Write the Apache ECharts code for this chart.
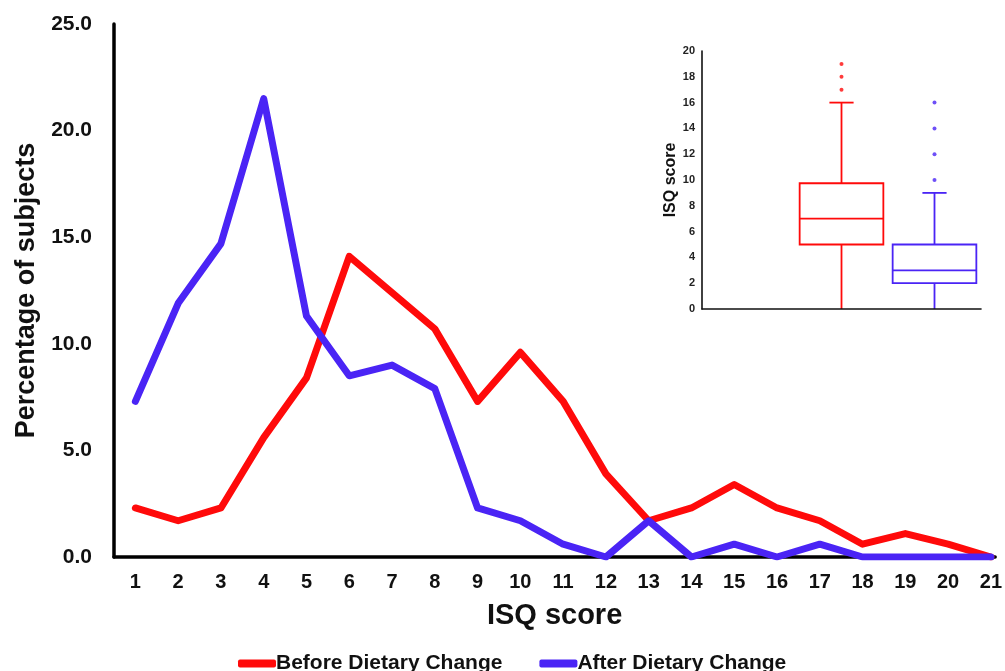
<!DOCTYPE html>
<html>
<head>
<meta charset="utf-8">
<script src="https://cdn.jsdelivr.net/npm/echarts@6/dist/echarts.min.js"></script>
<style>
html,body{margin:0;padding:0;background:#fff;}
#chart{width:1005px;height:671px;}
</style>
</head>
<body>
<div id="chart"></div>
<script>
// ---- data ----
const scores = [1,2,3,4,5,6,7,8,9,10,11,12,13,14,15,16,17,18,19,20,21];
const beforeValues = [2.3,1.7,2.3,5.6,8.4,14.1,12.4,10.7,7.3,9.6,7.3,3.9,1.7,2.3,3.4,2.3,1.7,0.6,1.1,0.6,0.0];
const afterValues  = [7.3,11.9,14.7,21.5,11.3,8.5,9.0,7.9,2.3,1.7,0.6,0.0,1.7,0.0,0.6,0.0,0.6,0.0,0.0,0.0,0.0];
const percentTicks = [0,5,10,15,20,25];
const seriesNames = ['Before Dietary Change','After Dietary Change'];
// inset boxplot: [low whisker, Q1, median, Q3, high whisker]
const boxCategories = ['', 'Before Dietary Change', 'After Dietary Change'];
const beforeBox = [0, 5, 7, 9.75, 16];
const afterBox  = [0, 2, 3, 5, 9];
const beforeOutliers = [17, 18, 19];
const afterOutliers  = [10, 12, 14, 16];
const isqTicks = [0,2,4,6,8,10,12,14,16,18,20];

const RED = '#ff0a0a';
const BLUE = '#4a24f5';
const FONT = '"Liberation Sans", Arial, sans-serif';

function boxRender(params, api) {
  const x = api.value(0);
  const lo = api.coord([x, api.value(1)]);
  const q1 = api.coord([x, api.value(2)]);
  const md = api.coord([x, api.value(3)]);
  const q3 = api.coord([x, api.value(4)]);
  const hi = api.coord([x, api.value(5)]);
  const band = api.size([1, 0])[0];
  const hw = band * 0.45, cw = band * 0.13;
  const color = api.visual('color');
  const st = {stroke: color, lineWidth: 1.8, fill: null};
  const cx = q1[0];
  return {
    type: 'group',
    children: [
      {type:'rect', shape:{x: cx-hw, y: q3[1], width: 2*hw, height: q1[1]-q3[1]}, style: st},
      {type:'line', shape:{x1: cx-hw, y1: md[1], x2: cx+hw, y2: md[1]}, style: st},
      {type:'line', shape:{x1: cx, y1: q3[1], x2: cx, y2: hi[1]}, style: st},
      {type:'line', shape:{x1: cx, y1: q1[1], x2: cx, y2: lo[1]}, style: st},
      {type:'line', shape:{x1: cx-cw, y1: hi[1], x2: cx+cw, y2: hi[1]}, style: st}
    ]
  };
}

const chart = echarts.init(document.getElementById('chart'));
chart.setOption({
  animation: false,
  backgroundColor: '#ffffff',
  textStyle: {fontFamily: FONT},
  legend: {
    data: seriesNames,
    left: 233,
    top: 648,
    icon: 'roundRect',
    itemWidth: 38,
    itemHeight: 8,
    itemGap: 37,
    textStyle: {fontFamily: FONT, fontWeight: 'bold', fontSize: 21, color: '#111', padding: [0, 0, 0, -5]}
  },
  grid: [
    {left: 114, right: 8, top: 24, bottom: 114, containLabel: false},
    {left: 702, width: 279, top: 51, bottom: 362, containLabel: false}
  ],
  xAxis: [
    {
      type: 'value', gridIndex: 0, min: 0.5, max: 21.1,
      name: 'ISQ score', nameLocation: 'middle', nameGap: 44,
      nameTextStyle: {fontFamily: FONT, fontWeight: 'bold', fontSize: 29, color: '#111'},
      axisLine: {show: true, onZero: false, lineStyle: {color: '#000', width: 3.5}},
      axisTick: {show: false},
      splitLine: {show: false},
      axisLabel: {customValues: scores, margin: 15, fontFamily: FONT, fontWeight: 'bold', fontSize: 20, color: '#111'}
    },
    {
      type: 'category', gridIndex: 1, data: boxCategories, z: 5,
      axisLine: {show: true, lineStyle: {color: '#111', width: 1.6}},
      axisTick: {show: false},
      axisLabel: {show: false},
      splitLine: {show: false}
    }
  ],
  yAxis: [
    {
      type: 'value', gridIndex: 0, min: 0, max: 25, interval: 5,
      name: 'Percentage of subjects', nameLocation: 'middle', nameGap: 72,
      nameTextStyle: {fontFamily: FONT, fontWeight: 'bold', fontSize: 27, color: '#111'},
      axisLine: {show: true, lineStyle: {color: '#000', width: 3.5}},
      axisTick: {show: false},
      splitLine: {show: false},
      axisLabel: {customValues: percentTicks, margin: 22, fontFamily: FONT, fontWeight: 'bold', fontSize: 21, color: '#111',
        formatter: v => v.toFixed(1)}
    },
    {
      type: 'value', gridIndex: 1, min: 0, max: 20, interval: 2,
      name: 'ISQ score', nameLocation: 'middle', nameGap: 20,
      nameTextStyle: {fontFamily: FONT, fontWeight: 'bold', fontSize: 16, color: '#111'},
      axisLine: {show: true, lineStyle: {color: '#111', width: 1.6}},
      axisTick: {show: false},
      splitLine: {show: false},
      axisLabel: {customValues: isqTicks, margin: 7, fontFamily: FONT, fontWeight: 'bold', fontSize: 11, color: '#222'}
    }
  ],
  series: [
    {
      name: seriesNames[0], type: 'line', xAxisIndex: 0, yAxisIndex: 0,
      data: scores.map((s, i) => [s, beforeValues[i]]),
      showSymbol: false, symbol: 'none', color: RED,
      lineStyle: {color: RED, width: 7, join: 'round', cap: 'round'}
    },
    {
      name: seriesNames[1], type: 'line', xAxisIndex: 0, yAxisIndex: 0,
      data: scores.map((s, i) => [s, afterValues[i]]),
      showSymbol: false, symbol: 'none', color: BLUE,
      lineStyle: {color: BLUE, width: 7, join: 'round', cap: 'round'}
    },
    {
      name: 'box-before', type: 'custom', xAxisIndex: 1, yAxisIndex: 1, z: 1,
      color: RED, itemStyle: {color: RED},
      renderItem: boxRender, encode: {x: 0, y: [1,2,3,4,5]},
      data: [[1].concat(beforeBox)]
    },
    {
      name: 'box-after', type: 'custom', xAxisIndex: 1, yAxisIndex: 1, z: 1,
      color: BLUE, itemStyle: {color: BLUE},
      renderItem: boxRender, encode: {x: 0, y: [1,2,3,4,5]},
      data: [[2].concat(afterBox)]
    },
    {
      name: 'out-before', type: 'scatter', xAxisIndex: 1, yAxisIndex: 1,
      symbolSize: 4, itemStyle: {color: RED},
      data: beforeOutliers.map(v => [boxCategories[1], v])
    },
    {
      name: 'out-after', type: 'scatter', xAxisIndex: 1, yAxisIndex: 1,
      symbolSize: 4, itemStyle: {color: BLUE},
      data: afterOutliers.map(v => [boxCategories[2], v])
    }
  ]
});
</script>
</body>
</html>
